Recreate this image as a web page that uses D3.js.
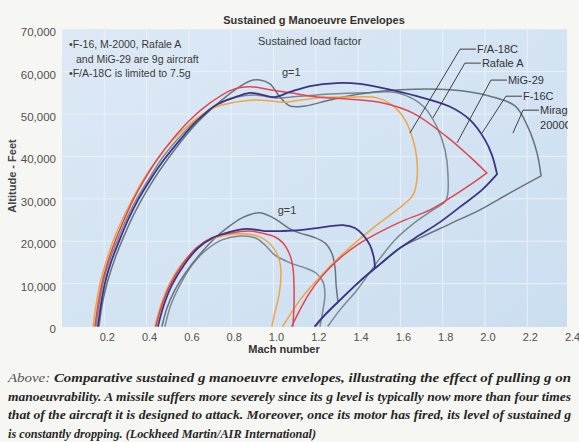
<!DOCTYPE html>
<html><head><meta charset="utf-8">
<script src="https://cdn.jsdelivr.net/npm/d3@7/dist/d3.min.js"></script>
<style>
body{margin:0;background:#f6f6f3;}
svg{display:block;}
</style>
</head><body>
<svg id="chart" width="579" height="442"></svg>
<script>
// ---------- DATA (Mach, altitude ft) ----------
const machTicks = [0.2,0.4,0.6,0.8,1.0,1.2,1.4,1.6,1.8,2.0,2.2,2.4];
const machTickLabels = ["0.2","0.4","0.6","0.8","1.0","1.2","1.4","1.6","1.8","2.0","2.2","2.4"];
const altTicks = [0,10000,20000,30000,40000,50000,60000,70000];
const altTickLabels = ["0","10,000","20,000","30,000","40,000","50,000","60,000","70,000"];

// g=1 envelopes
const fa18G1 = [[0.147,0],[0.161,5000],[0.180,10100],[0.208,15100],[0.241,20000],[0.284,25000],[0.331,29700],[0.383,34400],[0.449,39200],[0.525,43900],[0.615,48100],[0.714,51400],[0.818,52800],[0.913,53300],[0.983,53100],[1.054,52800],[1.206,53800],[1.362,54000],[1.489,53800],[1.565,51900],[1.622,48600],[1.660,43900],[1.678,39200],[1.678,34400],[1.660,30900],[1.612,28500],[1.470,23100],[1.338,17500],[1.220,11600],[1.125,6100],[1.045,0]];
const rafaleG1 = [[0.161,0],[0.175,5000],[0.194,10100],[0.222,15100],[0.260,20000],[0.303,25000],[0.350,29700],[0.407,34400],[0.468,39200],[0.544,43900],[0.629,48300],[0.723,51900],[0.827,54000],[0.913,54500],[1.007,53800],[1.125,54200],[1.267,54700],[1.433,55000],[1.584,55000],[1.707,51900],[1.773,46900],[1.811,41500],[1.825,35600],[1.816,29700],[1.754,27400],[1.660,24100],[1.574,20300],[1.504,16000],[1.456,12700],[1.395,8500],[1.314,3800],[1.258,0]];
const mig29G1 = [[0.156,0],[0.170,5000],[0.189,10100],[0.217,15100],[0.251,20000],[0.293,25000],[0.336,29700],[0.388,34400],[0.449,39200],[0.520,43900],[0.605,48600],[0.700,52600],[0.804,55700],[0.889,56400],[0.983,55700],[1.078,55000],[1.206,54000],[1.362,53500],[1.518,52600],[1.660,50200],[1.820,44600],[1.929,39900],[2.009,36100],[1.962,34400],[1.835,30200],[1.740,27400],[1.598,24500],[1.504,22200],[1.395,19100],[1.314,16000],[1.234,12000],[1.173,8000],[1.125,3800],[1.087,0]];
const f16G1 = [[0.170,0],[0.184,5000],[0.203,10100],[0.232,15100],[0.270,20000],[0.312,25000],[0.359,29700],[0.416,34400],[0.482,39200],[0.558,43900],[0.643,48600],[0.738,52400],[0.832,54200],[0.889,55000],[0.946,54500],[1.007,54000],[1.078,55200],[1.173,56600],[1.300,57300],[1.409,57100],[1.518,56100],[1.678,54200],[1.835,51700],[1.929,48600],[2.000,43900],[2.033,40300],[2.057,35800],[1.986,32100],[1.882,28100],[1.787,24500],[1.693,21500],[1.598,18400],[1.504,14600],[1.409,10600],[1.314,6100],[1.243,2600],[1.196,0]];
const mirageG1 = [[0.175,0],[0.194,6100],[0.217,10800],[0.251,16000],[0.293,21200],[0.340,26400],[0.397,31600],[0.463,36800],[0.539,42000],[0.629,47400],[0.723,51900],[0.818,55700],[0.889,57800],[0.936,58000],[0.983,57100],[1.031,54000],[1.078,51900],[1.149,51900],[1.267,53300],[1.409,54700],[1.598,55700],[1.835,55700],[2.024,54200],[2.142,51900],[2.203,46900],[2.246,40800],[2.265,35400],[2.118,31400],[1.976,27400],[1.835,24100],[1.693,20800],[1.598,18400],[1.504,14600],[1.409,10600],[1.314,6100],[1.243,2600],[1.201,0]];

// sustained (max g) envelopes
const fa18Sus = [[0.440,0],[0.468,5000],[0.506,9700],[0.563,14400],[0.629,17900],[0.700,20300],[0.785,21500],[0.865,21700],[0.927,21200],[0.974,19800],[1.012,17500],[1.031,14900],[1.035,11600],[1.026,7300],[1.007,3300],[0.993,0]];
const rafaleSus = [[0.487,0],[0.515,5000],[0.558,9700],[0.615,14400],[0.681,17900],[0.757,20300],[0.842,21200],[0.913,20800],[0.960,19100],[1.007,16700],[1.078,14900],[1.149,13700],[1.201,12500],[1.234,10400],[1.243,7300],[1.234,3800],[1.220,0]];
const mig29Sus = [[0.444,0],[0.473,5000],[0.511,9700],[0.567,14400],[0.634,18400],[0.709,20800],[0.794,21900],[0.889,22400],[0.946,21900],[1.007,21000],[1.045,19600],[1.078,16700],[1.092,13700],[1.097,9700],[1.097,5000],[1.092,0]];
const f16Sus = [[0.454,0],[0.482,5000],[0.520,9700],[0.577,14400],[0.643,18400],[0.714,20800],[0.794,22200],[0.875,22900],[0.960,22400],[1.045,22400],[1.125,22600],[1.206,23100],[1.329,23800],[1.385,23100],[1.423,21500],[1.456,19100],[1.475,16000],[1.480,13700]];
const mirageSus = [[0.473,0],[0.496,4200],[0.534,8500],[0.586,12700],[0.648,16700],[0.714,20300],[0.785,23300],[0.851,25500],[0.898,26400],[0.936,26700],[0.983,25900],[1.031,24500],[1.078,22900],[1.125,21900],[1.187,21000],[1.243,19600],[1.277,17000],[1.291,13700],[1.296,9700],[1.305,5700]];

const aircraft = ["F/A-18C","Rafale A","MiG-29","F-16C","Mirage 2000C"];
const g1Series = [fa18G1, rafaleG1, mig29G1, f16G1, mirageG1];
const susSeries = [fa18Sus, rafaleSus, mig29Sus, f16Sus, mirageSus];
const sharpTip = [false, false, true, true, true];
const colors = ["#f0a443","#7c8893","#e0464f","#3a3483","#69737e"];
const drawOrder = [1,4,0,2,3];

// leader labels
const leaderText = [["F/A-18C"],["Rafale A"],["MiG-29"],["F-16C"],["Mirage","2000C"]];
const leaderCorner = [[1.882,65300],[1.905,62000],[2.028,58000],[2.099,54200],[2.180,50900]];
const leaderEnd = [[1.645,45500],[1.754,49100],[1.868,43200],[1.986,45500],[2.132,45500]];

const noteLines = ["\u2022F-16, M-2000, Rafale A","and MiG-29 are 9g aircraft","\u2022F/A-18C is limited to 7.5g"];
const gLabels = [["g=1",1.04,59000],["g=1",1.02,26300]];
const captionLines = [
  ["Above: ","Comparative sustained g manoeuvre envelopes, illustrating the effect of pulling g on"],
  ["","manoeuvrability.  A missile suffers more severely since its g level is typically now more than four times"],
  ["","that of the aircraft it is designed to attack.  Moreover, once its motor has fired, its level of sustained g"],
  ["","is constantly dropping.  (Lockheed Martin/AIR International)"]
];

// ---------- DRAWING ----------
const svg = d3.select("#chart");
const W = 579, H = 442;
const x = d3.scaleLinear().domain([0,2.4]).range([62,569.6]);
const y = d3.scaleLinear().domain([0,70000]).range([326,29.2]);
const sans = "'Liberation Sans', Arial, Helvetica, sans-serif";
const serif = "'Liberation Serif', 'Times New Roman', serif";

svg.append("rect").attr("width",W).attr("height",H).attr("fill","#f6f6f3");

const defs = svg.append("defs");
const grad = defs.append("linearGradient").attr("id","bg").attr("x1","0").attr("y1","0").attr("x2","1").attr("y2","1");
grad.append("stop").attr("offset","0%").attr("stop-color","#dde9f5");
grad.append("stop").attr("offset","100%").attr("stop-color","#cbdef0");
defs.append("clipPath").attr("id","plotclip").append("rect")
  .attr("x",x(0)).attr("y",y(70000)).attr("width",567-x(0)).attr("height",y(0)-y(70000)+1);
defs.append("clipPath").attr("id","edgeclip").append("rect")
  .attr("x",0).attr("y",0).attr("width",568).attr("height",H);

svg.append("rect").attr("x",x(0)).attr("y",y(70000))
  .attr("width",567-x(0)).attr("height",y(0)-y(70000)+1).attr("fill","url(#bg)");

// grid
const grid = svg.append("g").attr("clip-path","url(#plotclip)");
grid.selectAll("line.v").data(machTicks.filter(v=>v<2.4)).join("line")
  .attr("x1",d=>x(d)).attr("x2",d=>x(d)).attr("y1",y(0)).attr("y2",y(70000))
  .attr("stroke","#e9f1f9").attr("stroke-width",1);
grid.selectAll("line.h").data(altTicks.filter(v=>v>0&&v<70000)).join("line")
  .attr("x1",x(0)).attr("x2",567).attr("y1",d=>y(d)).attr("y2",d=>y(d))
  .attr("stroke","#e9f1f9").attr("stroke-width",1);

// axes labels
svg.append("g").selectAll("text").data(altTicks).join("text")
  .attr("x",56).attr("y",d=>y(d)+7).attr("text-anchor","end")
  .attr("font-family",sans).attr("font-size",11.5).attr("fill","#505050")
  .text((d,i)=>altTickLabels[i]);
svg.append("g").selectAll("text").data(machTicks).join("text")
  .attr("x",d=>x(d)+3).attr("y",341).attr("text-anchor","middle")
  .attr("font-family",sans).attr("font-size",11).attr("fill","#505050")
  .text((d,i)=>machTickLabels[i]);
svg.append("text").attr("x",284).attr("y",353).attr("text-anchor","middle")
  .attr("font-family",sans).attr("font-size",11).attr("font-weight","bold").attr("fill","#333")
  .text("Mach number");
svg.append("text").attr("transform","translate(16,176) rotate(-90)").attr("text-anchor","middle")
  .attr("font-family",sans).attr("font-size",11).attr("font-weight","bold").attr("fill","#444")
  .text("Altitude - Feet");

// title + subtitle
svg.append("text").attr("x",314).attr("y",24).attr("text-anchor","middle")
  .attr("font-family",sans).attr("font-size",11).attr("font-weight","bold").attr("fill","#333")
  .text("Sustained g Manoeuvre Envelopes");
svg.append("text").attr("x",258).attr("y",45)
  .attr("font-family",sans).attr("font-size",11).attr("fill","#3a3a3a")
  .text("Sustained load factor");

// notes
svg.append("g").selectAll("text").data(noteLines).join("text")
  .attr("x",(d,i)=>i===1?76:69).attr("y",(d,i)=>48+i*14.5)
  .attr("font-family",sans).attr("font-size",10.5).attr("fill","#3a3a3a")
  .text(d=>d);

// curves
const line = d3.line().x(d=>x(d[0])).y(d=>y(d[1])).curve(d3.curveCatmullRom.alpha(0.5));
function pathD(pts, sharp){
  if(!sharp) return line(pts);
  const i = d3.maxIndex(pts, d=>d[0]);
  return line(pts.slice(0,i+1)) + line(pts.slice(i));
}
const curves = svg.append("g").attr("clip-path","url(#plotclip)").attr("fill","none")
  .attr("stroke-linejoin","round").attr("stroke-linecap","round");
drawOrder.forEach(i=>{
  curves.append("path").attr("d",pathD(susSeries[i],false))
    .attr("stroke",colors[i]).attr("stroke-width",i===3?1.8:1.5);
  curves.append("path").attr("d",pathD(g1Series[i],sharpTip[i]))
    .attr("stroke",colors[i]).attr("stroke-width",i===3?1.8:1.5);
});

// g labels
svg.append("g").selectAll("text").data(gLabels).join("text")
  .attr("x",d=>x(d[1])).attr("y",d=>y(d[2]))
  .attr("font-family",sans).attr("font-size",11).attr("fill","#3a3a3a")
  .text(d=>d[0]);

// leader lines + labels
const lead = svg.append("g").attr("clip-path","url(#edgeclip)");
leaderText.forEach((t,i)=>{
  const cx = x(leaderCorner[i][0]), cy = y(leaderCorner[i][1]);
  const ex = x(leaderEnd[i][0]), ey = y(leaderEnd[i][1]);
  lead.append("path").attr("d",`M${cx+16},${cy}L${cx},${cy}L${ex},${ey}`)
    .attr("fill","none").attr("stroke","#2e2e2e").attr("stroke-width",0.9);
  t.forEach((s,j)=>{
    lead.append("text").attr("x",cx+17).attr("y",cy+4+j*15)
      .attr("font-family",sans).attr("font-size",11).attr("fill","#333")
      .text(s);
  });
});

// caption
const cap = svg.append("g");
captionLines.forEach((ln,i)=>{
  const t = cap.append("text").attr("x",8).attr("y",382+i*18.7)
    .attr("font-family",serif).attr("font-size",13).attr("font-style","italic")
    .attr("fill","#262626");
  if(i<3) t.attr("textLength",563).attr("lengthAdjust","spacingAndGlyphs");
  else t.attr("textLength",308).attr("lengthAdjust","spacingAndGlyphs");
  if(ln[0]) t.append("tspan").attr("font-weight","normal").attr("fill","#555").text(ln[0]);
  t.append("tspan").attr("font-weight","bold").text(ln[1]);
});
</script>
</body></html>
